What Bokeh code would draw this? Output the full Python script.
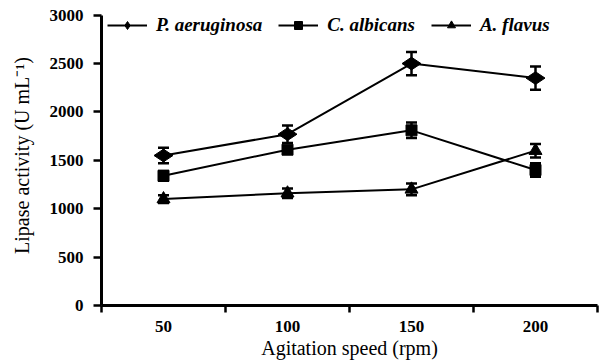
import numpy as np
from bokeh.plotting import figure
from bokeh.models import (ColumnDataSource, Range1d, FixedTicker, Whisker, TeeHead, Legend, LegendItem)
from bokeh.embed import file_html
from bokeh.resources import INLINE

speeds = ["50", "100", "150", "200"]
series_names = ["P. aeruginosa", "C. albicans", "A. flavus"]
p_aeruginosa = [1550, 1770, 2500, 2350]
p_aeruginosa_err = [80, 90, 120, 120]
c_albicans = [1340, 1610, 1810, 1400]
c_albicans_err = [50, 30, 80, 70]
a_flavus = [1100, 1160, 1200, 1600]
a_flavus_err = [40, 50, 60, 70]
y_ticks = [0, 500, 1000, 1500, 2000, 2500, 3000]

FONT = "'Liberation Serif', 'Times New Roman', serif"

p = figure(width=602, height=364, output_backend="svg", toolbar_location=None,
           x_range=Range1d(0, len(speeds)), y_range=Range1d(0, 3100),
           min_border_left=101, min_border_right=5, min_border_top=5, min_border_bottom=59)
p.outline_line_color = None
p.xgrid.visible = False
p.ygrid.visible = False
p.background_fill_color = "white"
p.border_fill_color = "white"

xs = [i + 0.5 for i in range(len(speeds))]

markers = ["diamond", "square", "triangle"]
sizes = [19, 11, 13]
angles = [np.pi / 2, 0, 0]
vals = [p_aeruginosa, c_albicans, a_flavus]
errs = [p_aeruginosa_err, c_albicans_err, a_flavus_err]

items = []
for name, v, e, m, s, a in zip(series_names, vals, errs, markers, sizes, angles):
    src = ColumnDataSource(dict(x=xs, y=v, lo=[yy - ee for yy, ee in zip(v, e)],
                                hi=[yy + ee for yy, ee in zip(v, e)]))
    w = Whisker(base="x", upper="hi", lower="lo", source=src, dimension="height",
                line_color="black", line_width=2.5,
                upper_head=TeeHead(size=11, line_width=2.5, line_color="black"),
                lower_head=TeeHead(size=11, line_width=2.5, line_color="black"))
    p.add_layout(w)
    ln = p.line("x", "y", source=src, line_color="black", line_width=2)
    sc = p.scatter("x", "y", source=src, marker=m, size=s, angle=a,
                   fill_color="black", line_color="black")
    items.append(LegendItem(label=name, renderers=[ln, sc]))

legend = Legend(items=items, orientation="horizontal", location=(6, 269),
                background_fill_alpha=0, border_line_color=None,
                padding=0, margin=0, spacing=16, glyph_width=40, glyph_height=20,
                label_standoff=9, label_text_font=FONT, label_text_font_size="19px",
                label_text_font_style="bold italic", label_text_color="black")
p.add_layout(legend)

# x axis
xa = p.xaxis[0]
xa.ticker = FixedTicker(ticks=xs, minor_ticks=list(range(len(speeds) + 1)))
xa.major_label_overrides = {x: s for x, s in zip(xs, speeds)}
xa.major_tick_line_color = None
xa.major_tick_out = 0
xa.major_tick_in = 0
xa.minor_tick_out = 7
xa.minor_tick_in = 0
xa.minor_tick_line_width = 2.5
xa.minor_tick_line_color = "black"
xa.axis_line_width = 3
xa.axis_line_color = "black"
xa.major_label_text_font = FONT
xa.major_label_text_font_size = "17px"
xa.major_label_text_font_style = "bold"
xa.major_label_text_color = "black"
xa.major_label_standoff = 8
xa.axis_label = "Agitation speed (rpm)"
xa.axis_label_text_font = FONT
xa.axis_label_text_font_size = "20px"
xa.axis_label_text_font_style = "normal"
xa.axis_label_text_color = "black"
xa.axis_label_standoff = 2

# y axis
ya = p.yaxis[0]
ya.ticker = FixedTicker(ticks=y_ticks, minor_ticks=[])
ya.bounds = (0, 3000)
ya.major_tick_out = 8
ya.major_tick_in = 0
ya.major_tick_line_width = 2.5
ya.major_tick_line_color = "black"
ya.minor_tick_line_color = None
ya.axis_line_width = 3
ya.axis_line_color = "black"
ya.major_label_text_font = FONT
ya.major_label_text_font_size = "17px"
ya.major_label_text_font_style = "bold"
ya.major_label_text_color = "black"
ya.major_label_standoff = 10
ya.axis_label = "Lipase activity (U mL\u207b\u00b9)"
ya.axis_label_text_font = FONT
ya.axis_label_text_font_size = "20px"
ya.axis_label_text_font_style = "normal"
ya.axis_label_text_color = "black"
ya.axis_label_standoff = 14

open("out.html", "w").write(file_html(p, INLINE))
